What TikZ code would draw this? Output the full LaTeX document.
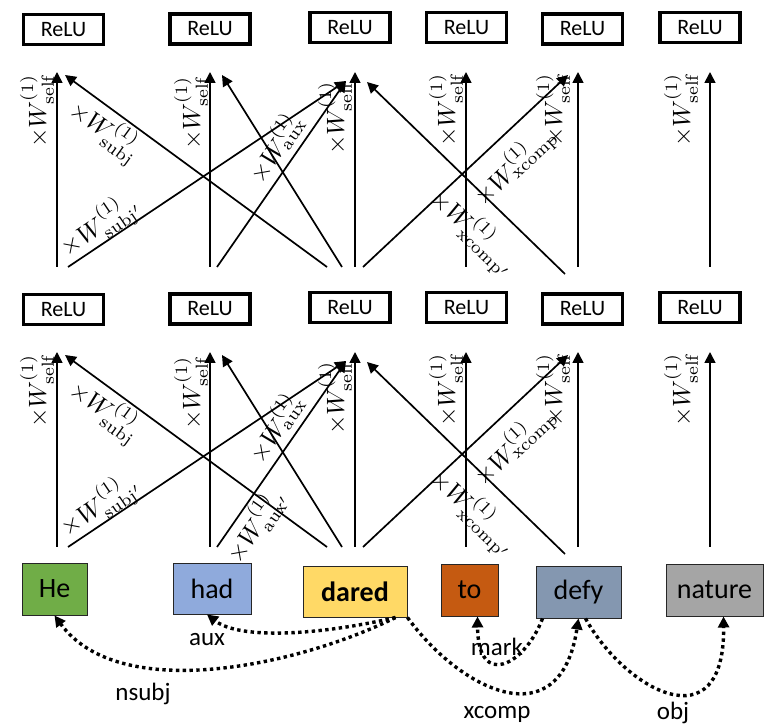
\documentclass[tikz,border=0pt]{standalone}
\usepackage{fontspec}
\newfontfamily\calibri{Carlito}
\usetikzlibrary{arrows.meta,calc}
\definecolor{cHe}{HTML}{70AD47}
\definecolor{cHad}{HTML}{8FAADC}
\definecolor{cDared}{HTML}{FFD966}
\definecolor{cTo}{HTML}{C55A11}
\definecolor{cDefy}{HTML}{8497B0}
\definecolor{cNature}{HTML}{A5A5A5}
\tikzset{
  arr/.style={line width=1.7pt, -{Triangle[length=11pt,width=11pt]}},
  relu/.style={draw, line width=3.8pt, fill=white, minimum width=80pt, minimum height=30pt, inner sep=0pt, font=\calibri\fontsize{22}{26}\selectfont},
  word/.style={draw=black!85, line width=1pt, inner sep=0pt, font=\calibri\fontsize{28}{32}\selectfont},
  wlab/.style={font=\normalsize, scale=2.5, transform shape, inner sep=0pt},
  dep/.style={line width=3.4pt, dash pattern=on 3.4pt off 3.4pt, -{Triangle[length=11pt,width=11pt]}},
  deplab/.style={font=\calibri\fontsize{25}{30}\selectfont, inner sep=0pt},
}
\begin{document}
\begin{tikzpicture}[x=1pt,y=-1pt]
\useasboundingbox (0,0) rectangle (764,727);

% ReLU rows
\foreach \l/\o in {1/280,2/0}{
  \node[relu] (relu-\l-1) at (63.5,\o+29.5) {ReLU};
  \node[relu] (relu-\l-2) at (210,\o+29) {ReLU};
  \node[relu] (relu-\l-3) at (350,\o+27.5) {ReLU};
  \node[relu] (relu-\l-4) at (466.5,\o+27.5) {ReLU};
  \node[relu] (relu-\l-5) at (582.5,\o+29) {ReLU};
  \node[relu] (relu-\l-6) at (700,\o+27.5) {ReLU};
  % vertical self arrows
  \foreach \n/\x in {he/57,had/210,dared/355,to/466,defy/578,nature/710}{
    \coordinate (\n-\l-bot) at (\x,\o+267);
    \coordinate (\n-\l-top) at (\x,\o+72);
    \draw[arr] (\n-\l-bot) -- (\n-\l-top);
  }
  % diagonal end points
  \coordinate (he-\l-br) at (68,\o+267);
  \coordinate (he-\l-tr) at (65,\o+75);
  \coordinate (had-\l-br) at (217,\o+267);
  \coordinate (had-\l-tr) at (222,\o+75);
  \coordinate (dared-\l-tl) at (346,\o+81);
  \coordinate (dared-\l-tr) at (367,\o+82);
  \coordinate (dared-\l-bla) at (327,\o+267);
  \coordinate (dared-\l-blb) at (342,\o+267);
  \coordinate (dared-\l-br) at (363,\o+267);
  \coordinate (defy-\l-tl) at (568,\o+75);
  \coordinate (defy-\l-bl) at (565,\o+274);
  \draw[arr] (he-\l-br) -- (dared-\l-tl);
  \draw[arr] (had-\l-br) -- (dared-\l-tl);
  \draw[arr] (dared-\l-bla) -- (he-\l-tr);
  \draw[arr] (dared-\l-blb) -- (had-\l-tr);
  \draw[arr] (dared-\l-br) -- (defy-\l-tl);
  \draw[arr] (defy-\l-bl) -- (dared-\l-tr);
  % labels
  \node[wlab,rotate=90] (self-he-\l) at (37,\o+111) {$\times W^{(1)}_{\mathrm{self}}$};
  \node[wlab,rotate=-36] (subj-\l) at (105,\o+131) {$\times W^{(1)}_{\mathrm{subj}}$};
  \node[wlab,rotate=34] (subjp-\l) at (100,\o+226) {$\times W^{(1)}_{\mathrm{subj}'}$};
  \node[wlab,rotate=90] (self-had-\l) at (191,\o+113) {$\times W^{(1)}_{\mathrm{self}}$};
  \node[wlab,rotate=55] (aux-\l) at (274,\o+147) {$\times W^{(1)}_{\mathrm{aux}}$};
  \node[wlab,rotate=90] (self-dared-\l) at (335,\o+118) {$\times W^{(1)}_{\mathrm{self}}$};
  \node[wlab,rotate=90] (self-to-\l) at (446,\o+110) {$\times W^{(1)}_{\mathrm{self}}$};
  \node[wlab,rotate=43] (xcomp-\l) at (514,\o+165) {$\times W^{(1)}_{\mathrm{xcomp}}$};
  \node[wlab,rotate=90] (self-defy-\l) at (553,\o+110) {$\times W^{(1)}_{\mathrm{self}}$};
  \node[wlab,rotate=-44] (xcompp-\l) at (474,\o+232) {$\times W^{(1)}_{\mathrm{xcomp}'}$};
  \node[wlab,rotate=90] (self-nature-\l) at (681,\o+110) {$\times W^{(1)}_{\mathrm{self}}$};
}
\node[wlab,rotate=55] (auxp-1) at (255,525) {$\times W^{(1)}_{\mathrm{aux}'}$};

% words
\node[word,fill=cHe,minimum width=65pt,minimum height=52pt] (He) at (54.5,589) {He};
\node[word,fill=cHad,minimum width=78pt,minimum height=51pt] (had) at (212,588.5) {had};
\node[word,fill=cDared,minimum width=104pt,minimum height=51pt,font=\calibri\bfseries\fontsize{28}{32}\selectfont] (dared) at (355,591.5) {dared};
\node[word,fill=cTo,minimum width=57pt,minimum height=52pt] (to) at (469.5,590) {to};
\node[word,fill=cDefy,minimum width=85pt,minimum height=52pt] (defy) at (578.5,592) {defy};
\node[word,fill=cNature,minimum width=97pt,minimum height=52pt] (nature) at (714.5,590) {nature};

% dependency arcs
\draw[dep] ([xshift=-12pt]dared.south east) .. controls (320,635) and (240,640) .. ([xshift=-5pt]had.south);
\draw[dep] ([xshift=-12pt]dared.south east) .. controls (300,665) and (120,705) .. (He.south);
\draw[dep] (dared.south east) .. controls (460,690) and (560,740) .. (defy.south);
\draw[dep] ([xshift=-36pt]defy.south) .. controls (525,665) and (478,690) .. ([xshift=8pt]to.south);
\draw[dep] ([xshift=7pt]defy.south) .. controls (625,690) and (725,745) .. ([xshift=9pt]nature.south);

\node[deplab] (l-aux) at (207,640) {aux};
\node[deplab] (l-nsubj) at (143,694) {nsubj};
\node[deplab] (l-mark) at (497,647) {mark};
\node[deplab] (l-xcomp) at (497,714) {xcomp};
\node[deplab] (l-obj) at (673,713) {obj};
\end{tikzpicture}
\end{document}
